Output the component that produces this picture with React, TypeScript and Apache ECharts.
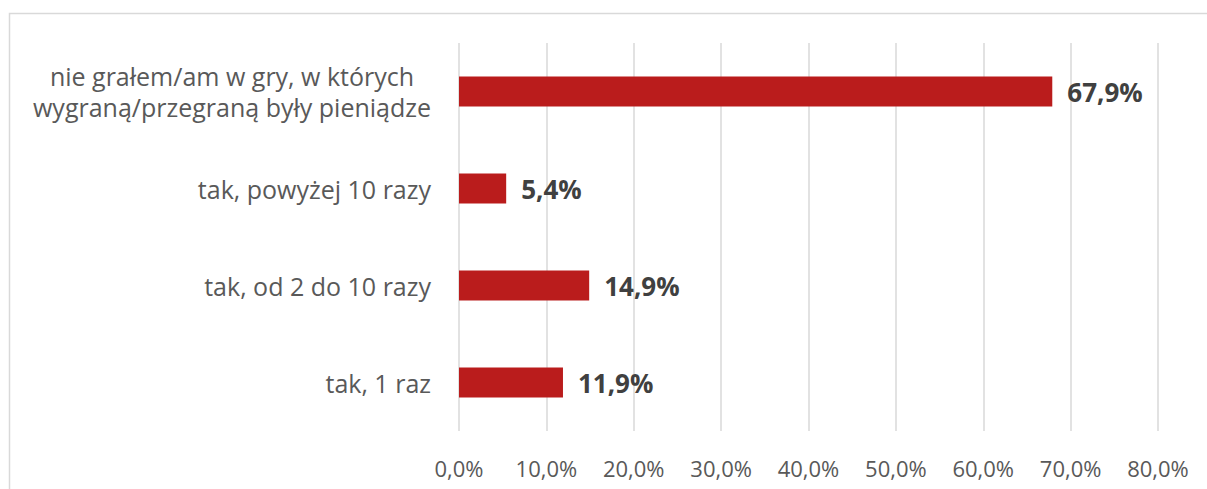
import React, { useEffect, useRef } from "react";
import * as echarts from "echarts";

const categories = [
  "tak, 1 raz",
  "tak, od 2 do 10 razy",
  "tak, powyżej 10 razy",
  "nie grałem/am w gry, w których\nwygraną/przegraną były pieniądze",
];
const values = [11.9, 14.9, 5.4, 67.9];
const axisMin = 0;
const axisMax = 80;
const axisStep = 10;

const fmt = (v: number) => v.toFixed(1).replace(".", ",") + "%";

export default function App() {
  const ref = useRef<HTMLDivElement>(null);
  useEffect(() => {
    if (!ref.current) return;
    const chart = echarts.init(ref.current, null, { renderer: "svg" });
    const font = "'Open Sans', 'Noto Sans', sans-serif";
    chart.setOption({
      animation: false,
      backgroundColor: "#ffffff",
      textStyle: { fontFamily: font },
      graphic: [
        {
          type: "rect",
          shape: { x: 9.5, y: 13.5, width: 1400, height: 700 },
          style: { fill: "none", stroke: "#d9d9d9", lineWidth: 1.5 },
          silent: true,
        },
      ],
      grid: { left: 459, right: 49, top: 43, bottom: 58, containLabel: false },
      xAxis: {
        type: "value",
        min: axisMin,
        max: axisMax,
        interval: axisStep,
        axisLine: { show: false },
        axisTick: { show: false },
        splitLine: { show: true, lineStyle: { color: "#d9d9d9", width: 1.5 } },
        axisLabel: {
          color: "#595959",
          fontSize: 22,
          fontFamily: font,
          margin: 26,
          formatter: (v: number) => fmt(v),
        },
      },
      yAxis: {
        type: "category",
        data: categories,
        axisLine: { show: false },
        axisTick: { show: false },
        splitLine: { show: false },
        axisLabel: {
          color: "#595959",
          fontSize: 25,
          fontFamily: font,
          margin: 28,
          align: "right",
          formatter: (v: string) =>
            v.indexOf("\n") >= 0
              ? v
                  .split("\n")
                  .map((s) => "{c|" + s + "}")
                  .join("\n")
              : v,
          rich: {
            c: {
              align: "center",
              fontSize: 25,
              lineHeight: 31,
              color: "#595959",
              fontFamily: font,
            },
          },
        },
      },
      series: [
        {
          type: "bar",
          data: values,
          barWidth: 30,
          itemStyle: { color: "#BA1C1C" },
          label: {
            show: true,
            position: "right",
            distance: 15,
            color: "#404040",
            fontSize: 26,
            fontWeight: "bold",
            fontFamily: font,
            formatter: (p: any) => fmt(p.value),
          },
        },
      ],
    });
    return () => chart.dispose();
  }, []);
  return (
    <div
      ref={ref}
      style={{ position: "absolute", left: 0, top: 0, width: 1207, height: 489 }}
    />
  );
}
